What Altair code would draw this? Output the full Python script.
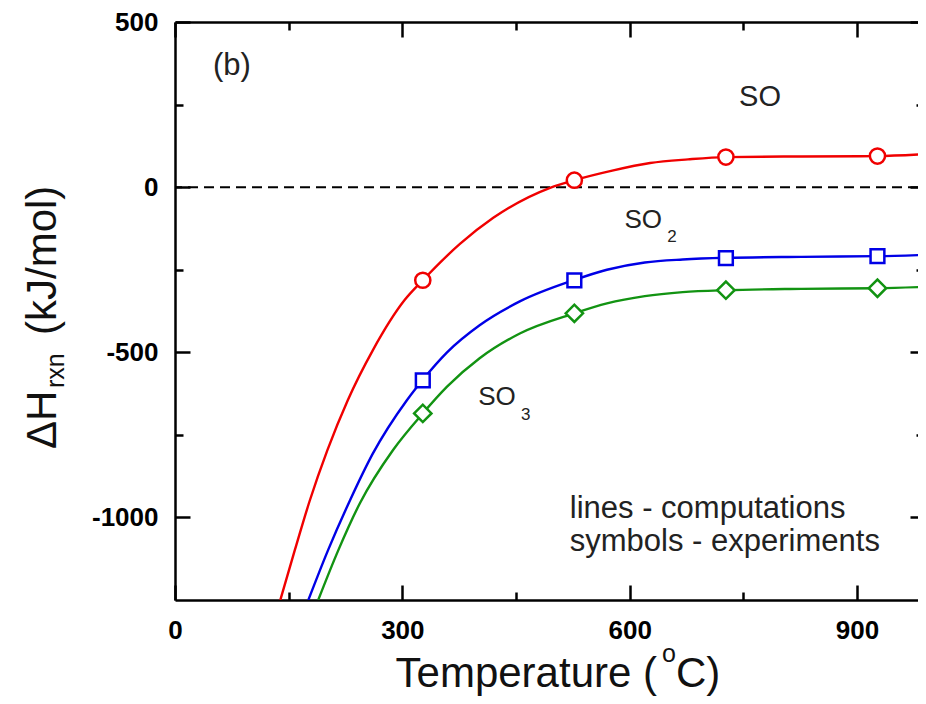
import altair as alt
import pandas as pd

# ---------------- data ----------------
# computed curves (lines)
so_T = [139, 158, 178, 201, 228, 261, 303, 327, 376, 420, 495, 527, 577, 627, 677, 727, 827, 926, 991]
so_H = [-1250, -1100, -948, -797, -645, -494, -342, -282, -172, -93, -2, 21, 50, 73, 84, 91, 93, 94, 100]

so2_T = [176, 202, 231, 261, 306, 327, 359, 402, 455, 527, 570, 620, 670, 727, 827, 927, 991]
so2_H = [-1250, -1099, -948, -807, -645, -583, -500, -418, -346, -281, -250, -228, -219, -214, -211, -209, -205]

so3_T = [189, 215, 244, 288, 327, 359, 402, 455, 527, 570, 620, 670, 727, 827, 927, 991]
so3_H = [-1250, -1102, -957, -795, -685, -604, -518, -443, -382, -352, -330, -318, -312, -308, -306, -302]

# experiments (symbols)
exp_T = [327, 527, 727, 927]
exp_so = [-282, 21, 91, 94]
exp_so2 = [-585, -282, -215, -209]
exp_so3 = [-685, -382, -312, -306]

x_major = [0, 300, 600, 900]
x_minor = [150, 450, 750]
y_major = [-1000, -500, 0, 500]
y_minor = [-750, -250, 250]

W, H = 743, 578
XMAX = 980.5
FONT = "Liberation Sans"
RED, BLUE, GREEN = "#f00000", "#0000e6", "#129312"

xs = alt.Scale(domain=[0, XMAX], nice=False, zero=False)
ys = alt.Scale(domain=[-1250, 500], nice=False, zero=False)


def tick_axis(orient, values, size, offset):
    return alt.Axis(orient=orient, values=values, domain=False, ticks=True,
                    tickSize=size, tickWidth=2.5, tickColor="black",
                    offset=offset, labels=False, grid=False, title=None)


def dom_axis(orient):
    return alt.Axis(orient=orient, domain=True, domainColor="black",
                    domainWidth=2.5, ticks=False, tickSize=0, labels=False,
                    grid=False, title=None)


ax_bottom = alt.Axis(orient="bottom", values=x_major, domain=True, domainColor="black",
                     domainWidth=2.5, ticks=False, tickSize=0, labelFont=FONT,
                     labelFontSize=26, labelFontWeight="bold", labelColor="black",
                     labelPadding=17, labelFlush=False, labelOverlap=False,
                     labelExpr="'' + datum.value", grid=False, title=None)
ax_left = alt.Axis(orient="left", values=y_major, domain=True, domainColor="black",
                   domainWidth=2.5, ticks=False, tickSize=0, labelFont=FONT,
                   labelFontSize=26, labelFontWeight="bold", labelColor="black",
                   labelPadding=17, labelFlush=False, labelOverlap=False,
                   labelExpr="'' + datum.value", grid=False, title=None)

df_so = pd.DataFrame({"T": so_T, "H": so_H})
df_so2 = pd.DataFrame({"T": so2_T, "H": so2_H})
df_so3 = pd.DataFrame({"T": so3_T, "H": so3_H})
df_e1 = pd.DataFrame({"T": exp_T, "H": exp_so})
df_e2 = pd.DataFrame({"T": exp_T, "H": exp_so2})
df_e3 = pd.DataFrame({"T": exp_T, "H": exp_so3})


def line(df, color, xa, ya):
    return alt.Chart(df).mark_line(color=color, strokeWidth=2.4, interpolate="monotone",
                                   clip=True).encode(
        x=alt.X("T:Q", scale=xs, axis=xa),
        y=alt.Y("H:Q", scale=ys, axis=ya))


def pts(df, color, shape, size, xa, ya):
    return alt.Chart(df).mark_point(shape=shape, size=size, filled=True, fill="white",
                                    stroke=color, strokeWidth=2.5, opacity=1).encode(
        x=alt.X("T:Q", scale=xs, axis=xa),
        y=alt.Y("H:Q", scale=ys, axis=ya))


l1 = line(df_so, RED, ax_bottom, ax_left)
l2 = line(df_so2, BLUE, tick_axis("bottom", x_major, 15, -15), tick_axis("left", y_major, 15, -15))
l3 = line(df_so3, GREEN, tick_axis("bottom", x_minor, 8, -8), tick_axis("left", y_minor, 8, -8))

zero = alt.Chart(pd.DataFrame({"H": [0]})).mark_rule(
    color="black", strokeWidth=2, strokeDash=[10, 6]).encode(
    y=alt.Y("H:Q", scale=ys, axis=None))

p1 = pts(df_e1, RED, "circle", 230, dom_axis("top"), tick_axis("right", y_major, 8, -8))
p2 = pts(df_e2, BLUE, "square", 190, tick_axis("top", x_major, 15, -15), tick_axis("right", y_minor, 2, -2))
p3 = pts(df_e3, GREEN, "diamond", 300, tick_axis("top", x_minor, 8, -8), None)

# in-plot annotations (data coordinates)
ann_text = ["(b)", "SO", "SO", "2", "SO", "3", "lines - computations", "symbols - experiments"]
ann_T = [75, 772, 618, 656, 425, 463, 521, 521]
ann_H = [367, 273, -100, -152, -636, -690, -973, -1073]
ann_size = [31, 29, 26, 17, 26, 17, 31, 31]
ann_align = ["center", "center", "center", "center", "center", "center", "left", "left"]
df_ann = pd.DataFrame({"T": ann_T, "H": ann_H, "t": ann_text, "s": ann_size, "a": ann_align})

ann_c = alt.Chart(df_ann[df_ann.a == "center"]).mark_text(
    font=FONT, color="#222222", baseline="middle", align="center").encode(
    x=alt.X("T:Q", scale=xs, axis=None), y=alt.Y("H:Q", scale=ys, axis=None),
    text="t:N", size=alt.Size("s:Q", scale=None, legend=None))
ann_l = alt.Chart(df_ann[df_ann.a == "left"]).mark_text(
    font=FONT, color="#222222", baseline="middle", align="left").encode(
    x=alt.X("T:Q", scale=xs, axis=None), y=alt.Y("H:Q", scale=ys, axis=None),
    text="t:N", size=alt.Size("s:Q", scale=None, legend=None))


# axis titles with super/subscripts (pixel positions relative to plot)
def label(txt, x, y, size, align, angle=0):
    return alt.Chart(pd.DataFrame({"t": [txt]})).mark_text(
        font=FONT, fontSize=size, color="#111111", align=align, baseline="alphabetic",
        angle=angle).encode(x=alt.value(x), y=alt.value(y), text="t:N")


xt1 = label("Temperature (", 482, 665, 42, "right")
xt2 = label("o", 494, 640, 25, "center")
xt3 = label("C)", 501, 665, 42, "left")
yt1 = label("\u0394H", -119, 427, 42, "left", 270)
yt2 = label("rxn", -111, 366, 25, "left", 270)
yt3 = label("(kJ/mol)", -119, 313, 42, "left", 270)

chart = alt.layer(
    zero, l1, l2, l3, p1, p2, p3, ann_c, ann_l, xt1, xt2, xt3, yt1, yt2, yt3
).resolve_axis(x="independent", y="independent").properties(
    width=W, height=H,
    autosize=alt.AutoSizeParams(type="none"),
    padding={"left": 167, "top": 14, "right": 0, "bottom": 96},
    background="white",
).configure_view(stroke=None)

chart.save("out.html", embed_options={"renderer": "svg", "actions": False})
